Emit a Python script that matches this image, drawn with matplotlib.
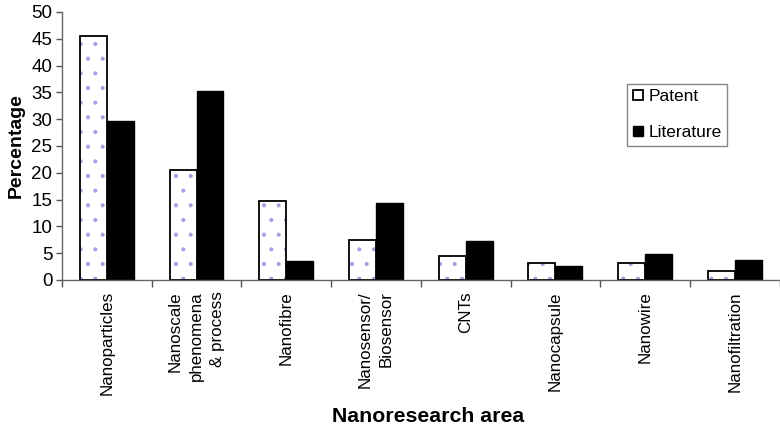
import matplotlib
matplotlib.use("Agg")
import matplotlib.pyplot as plt
import numpy as np

# rendered at 88 dpi so the '.' hatch comes out at the original dot spacing;
# sizes below are multiplied by k to keep the same pixel size as at 100 dpi
DPI = 88
k = 100 / DPI

plt.rcParams['font.family'] = ['Liberation Sans', 'DejaVu Sans']
plt.rcParams['hatch.linewidth'] = 0.9

categories = ['Nanoparticles', 'Nanoscale\nphenomena\n& process', 'Nanofibre',
              'Nanosensor/\nBiosensor', 'CNTs', 'Nanocapsule', 'Nanowire', 'Nanofiltration']
patent = [45.6, 20.5, 14.7, 7.4, 4.4, 3.1, 3.1, 1.6]
literature = [29.6, 35.3, 3.6, 14.3, 7.2, 2.6, 4.8, 3.7]

x = np.arange(len(categories))
w = 0.3

fig = plt.figure(figsize=(780 / DPI, 428 / DPI), dpi=DPI)
ax = fig.add_axes([0.0795, 0.346, 0.92, 0.626])

# dotted fill first, then the black outline on top
ax.bar(x - w / 2, patent, w, color='white', edgecolor='#a0a0e0', hatch='.', linewidth=0)
ax.bar(x - w / 2, patent, w, color='none', edgecolor='black', linewidth=1.3 * k, label='Patent')
ax.bar(x + w / 2, literature, w, color='black', edgecolor='black', linewidth=1.0 * k, label='Literature')

ax.set_xlim(-0.5, len(categories) - 0.5)
ax.set_ylim(0, 50)
ax.set_yticks(np.arange(0, 51, 5))
ax.set_xticks(np.arange(-0.5, len(categories), 1))
ax.set_xticklabels([])
ax.set_xticks(x, minor=True)
ax.set_xticklabels(categories, minor=True, rotation=90, va='top', ha='center',
                   multialignment='right', fontsize=12.2 * k, linespacing=1.5)
ax.tick_params(axis='x', which='minor', length=0, pad=8 * k)
ax.tick_params(axis='x', which='major', length=5 * k, width=k, color='#555555', direction='out')
ax.tick_params(axis='y', length=4 * k, width=k, color='#555555', labelsize=13.5 * k, pad=3 * k)

for s in ['top', 'right']:
    ax.spines[s].set_visible(False)
for s in ['left', 'bottom']:
    ax.spines[s].set_color('#666666')
    ax.spines[s].set_linewidth(1.0 * k)

ax.set_ylabel('Percentage', fontsize=14 * k, fontweight='bold', labelpad=5 * k)
ax.set_xlabel('Nanoresearch area', fontsize=15.3 * k, fontweight='bold')
ax.xaxis.set_label_coords(0.51, -0.475)

leg = ax.legend(loc='upper left', bbox_to_anchor=(0.788, 0.732), fontsize=12.5 * k,
                frameon=True, fancybox=False, edgecolor='#666666', handlelength=0.55,
                handleheight=0.55, handletextpad=0.35, labelspacing=1.2, borderpad=0.32,
                borderaxespad=0)
leg.get_frame().set_linewidth(1.0 * k)

fig.savefig('out.png', dpi=DPI)
